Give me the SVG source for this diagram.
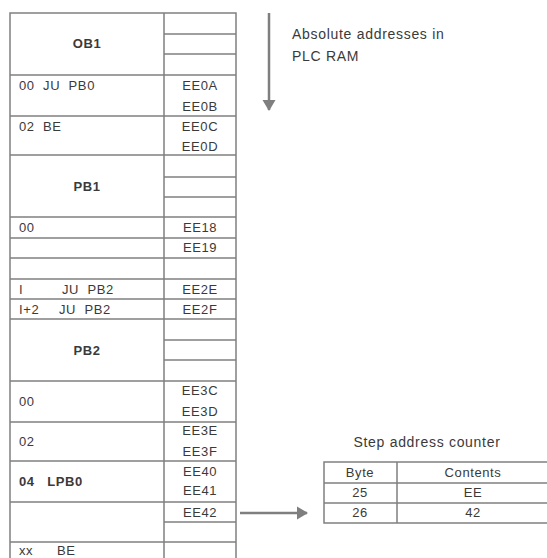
<svg xmlns="http://www.w3.org/2000/svg" width="547" height="558" viewBox="0 0 547 558">
  <defs>
    <marker id="ah" markerWidth="14" markerHeight="14" refX="10" refY="7" orient="auto" markerUnits="userSpaceOnUse">
      <path d="M0,0.5 L11,7 L0,13.5 Z" fill="#7f7f7f"/>
    </marker>
    <style>
      .ln { stroke: #808080; stroke-width: 1.5; fill: none; }
      .t { font-family: "Liberation Sans", Arial, sans-serif; font-size: 13px; fill: #3a3a3a; letter-spacing: 0.6px; white-space: pre; }
      .b { font-weight: bold; }
      .c { text-anchor: middle; }
      .lbl { font-family: "Liberation Sans", Arial, sans-serif; font-size: 14px; fill: #3a3a3a; letter-spacing: 0.7px; }
      .arr { stroke: #7f7f7f; stroke-width: 2.5; fill: none; }
    </style>
  </defs>
  <rect width="547" height="558" fill="#ffffff"/>

  <g id="memory-table">
    <path class="ln" d="M10,560 V13 H236 V560 M164,13 V560
      M10,75 H236 M10,116 H236 M10,155 H236 M10,217 H236 M10,238 H236 M10,258 H236
      M10,279 H236 M10,299 H236 M10,319 H236 M10,381 H236 M10,422 H236 M10,461 H236
      M10,502 H236 M10,542 H236
      M164,34 H236 M164,54 H236 M164,177 H236 M164,197 H236 M164,340 H236 M164,360 H236 M164,522 H236"/>
    <text class="t b c" x="87" y="48">OB1</text>
    <text class="t" x="19" y="90" xml:space="preserve">00  JU  PB0</text>
    <text class="t c" x="200" y="90">EE0A</text>
    <text class="t c" x="200" y="111">EE0B</text>
    <text class="t" x="19" y="131" xml:space="preserve">02  BE</text>
    <text class="t c" x="200" y="131">EE0C</text>
    <text class="t c" x="200" y="151">EE0D</text>
    <text class="t b c" x="87" y="191">PB1</text>
    <text class="t" x="19" y="232">00</text>
    <text class="t c" x="200" y="232">EE18</text>
    <text class="t c" x="200" y="252">EE19</text>
    <text class="t" x="19" y="294">I</text>
    <text class="t" x="62" y="294" xml:space="preserve">JU  PB2</text>
    <text class="t c" x="200" y="294">EE2E</text>
    <text class="t" x="19" y="314">I+2</text>
    <text class="t" x="59" y="314" xml:space="preserve">JU  PB2</text>
    <text class="t c" x="200" y="314">EE2F</text>
    <text class="t b c" x="87" y="355">PB2</text>
    <text class="t" x="19" y="406">00</text>
    <text class="t c" x="200" y="395">EE3C</text>
    <text class="t c" x="200" y="416">EE3D</text>
    <text class="t" x="19" y="446">02</text>
    <text class="t c" x="200" y="435">EE3E</text>
    <text class="t c" x="200" y="456">EE3F</text>
    <text class="t b" x="19" y="486" xml:space="preserve">04   LPB0</text>
    <text class="t c" x="200" y="476">EE40</text>
    <text class="t c" x="200" y="495">EE41</text>
    <text class="t c" x="200" y="517">EE42</text>
    <text class="t" x="19" y="555">xx</text>
    <text class="t" x="57" y="555">BE</text>
  </g>

  <g id="address-label">
    <text class="lbl" x="292" y="39">Absolute addresses in</text>
    <text class="lbl" x="292" y="61">PLC RAM</text>
  </g>

  <g id="step-address-counter">
    <text class="lbl c" x="427" y="447">Step address counter</text>
    <path class="ln" d="M549,462 H324 V523 H549 M397,462 V523 M324,483 H549 M324,503 H549"/>
    <text class="t c" x="360" y="477">Byte</text>
    <text class="t c" x="473" y="477">Contents</text>
    <text class="t c" x="360" y="497">25</text>
    <text class="t c" x="473" y="497">EE</text>
    <text class="t c" x="360" y="517">26</text>
    <text class="t c" x="473" y="517">42</text>
  </g>

  <g id="connectors">
    <line class="arr" x1="269" y1="13" x2="269" y2="110" marker-end="url(#ah)"/>
    <line class="arr" x1="240" y1="513" x2="307" y2="513" marker-end="url(#ah)"/>
  </g>
</svg>
